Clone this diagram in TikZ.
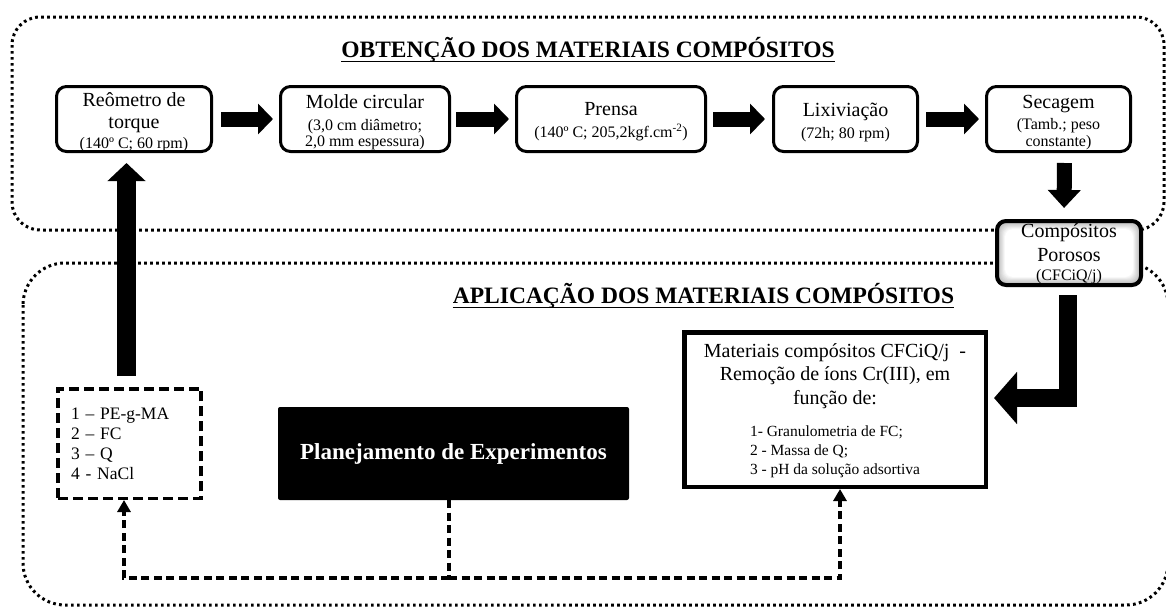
\documentclass[tikz,border=0pt]{standalone}
\usepackage{fontspec}
\setmainfont{Liberation Serif}
\usetikzlibrary{arrows.meta,calc}
\newcommand{\subt}[1]{{\fontsize{16}{17}\selectfont #1}}
\tikzset{
  stepbox/.style={draw, line width=3pt, rounded corners=10pt, minimum height=65pt, inner sep=0pt},
  txt/.style={align=center, inner sep=0pt, font=\fontsize{20}{22}\selectfont},
  blockarrow/.style={line width=15pt, -{Triangle[width=30pt,length=15pt]}},
  dotline/.style={line width=3pt, dash pattern=on 2.7pt off 3.3pt},
  dconn/.style={line width=4pt, dash pattern=on 8pt off 4.5pt},
  dtip/.style={-{Triangle[width=13pt,length=12pt]}},
  titletext/.style={font=\bfseries\fontsize{23.5}{26}\selectfont, inner sep=0pt, anchor=base},
  uline/.style={line width=1.6pt},
}
\begin{document}
\begin{tikzpicture}[x=1pt,y=-1pt]
\useasboundingbox (0,0) rectangle (1166,608);
% regions
\draw[dotline, rounded corners=28pt] (12,17) rectangle (1164,230);
\draw[dotline, rounded corners=42pt] (23,263) rectangle (1168,605);
% titles
\node[titletext] (t1) at (588,57) {OBTENÇÃO DOS MATERIAIS COMPÓSITOS};
\draw[uline] ([yshift=-4.5pt]t1.base west) -- ([yshift=-4.5pt]t1.base east);
\node[titletext] (t2) at (703.5,303) {APLICAÇÃO DOS MATERIAIS COMPÓSITOS};
\draw[uline] ([yshift=-4.5pt]t2.base west) -- ([yshift=-4.5pt]t2.base east);
% top row
\node[stepbox, minimum width=155pt,
  label={[txt, yshift=-3pt]center:{Reômetro de\\torque\\[-2pt]\subt{(140º C; 60 rpm)}}}] (b1) at (134,119) {};
\node[stepbox, minimum width=169pt,
  label={[txt, yshift=-3.5pt]center:{Molde circular\\\subt{(3,0 cm diâmetro;}\\[-5.5pt]\subt{2,0 mm espessura)}}}] (b2) at (365,119) {};
\node[stepbox, minimum width=189pt,
  label={[txt, yshift=-3pt]center:{Prensa\\\subt{(140º C; 205,2kgf.cm\textsuperscript{-2})}}}] (b3) at (611,119) {};
\node[stepbox, minimum width=144pt,
  label={[txt, yshift=-3pt]center:{Lixiviação\\\subt{(72h; 80 rpm)}}}] (b4) at (845.5,119) {};
\node[stepbox, minimum width=144pt,
  label={[txt, yshift=-3.5pt]center:{Secagem\\[-1pt]\subt{(Tamb.; peso}\\[-5pt]\subt{constante)}}}] (b5) at (1058.5,119) {};
% composites
\node[draw, line width=4pt, rounded corners=9pt, minimum width=144pt, minimum height=64pt,
  inner sep=0pt, fill=gray!60,
  path picture={\foreach \i in {0,...,10}{\pgfmathsetmacro\g{60-6*\i}
    \fill[gray!\g!white, rounded corners=8pt]
      ([shift={(\i*0.8pt,\i*0.8pt)}]path picture bounding box.south west) rectangle
      ([shift={(-\i*0.8pt,-\i*0.8pt)}]path picture bounding box.north east);}},
  label={[txt, font=\fontsize{20}{24}\selectfont, yshift=-1pt]center:{Compósitos\\Porosos\\[-5pt]\subt{(CFCiQ/j)}}}]
  (comp) at (1069,253) {};
% application
\node[draw, line width=4.5pt, minimum width=301.5pt, minimum height=154.5pt, inner sep=0pt,
  label={[txt, font=\fontsize{20}{23.5}\selectfont, yshift=-2.5pt]center:{Materiais compósitos CFCiQ/j~ -\\Remoção de íons Cr(III), em\\função de:\\[14pt]
   {\fontsize{15.5}{19}\selectfont\begin{tabular}{@{}l@{}}1- Granulometria de FC;\\2 - Massa de Q;\\3 - pH da solução adsortiva\end{tabular}}}}]
  (mat) at (835,409.5) {};
\node[fill=black, rounded corners=2pt, minimum width=351pt, minimum height=93pt, text=white,
  font=\bfseries\fontsize{23}{26}\selectfont] (plan) at (453.5,453.5) {Planejamento de Experimentos};
\node[draw, line width=3.5pt, dash pattern=on 10pt off 5pt, text width=117pt, align=left,
  inner xsep=13pt, minimum height=109.5pt, font=\fontsize{17.5}{20}\selectfont] (list) at (129.5,443.5)
  {1 – PE-g-MA\\2 – FC\\3 – Q\\4 - NaCl};
% block arrows
\draw[blockarrow, shorten <=8pt, shorten >=6pt] (b1.east) -- (b2.west);
\draw[blockarrow, shorten <=5pt, shorten >=6pt] (b2.east) -- (b3.west);
\draw[blockarrow, shorten <=6pt, shorten >=7pt] (b3.east) -- (b4.west);
\draw[blockarrow, shorten <=7pt, shorten >=6pt] (b4.east) -- (b5.west);
\draw[line width=15pt, -{Triangle[width=32pt,length=18pt]}, shorten <=10pt, shorten >=11pt]
  ([xshift=6pt]b5.south) -- ([xshift=-5pt]comp.north);
\draw[line width=19pt, -{Triangle[width=37pt,length=18pt]}, shorten <=11pt, shorten >=10pt]
  ([xshift=-3pt]list.north) -- ([xshift=-7.5pt]b1.south);
\draw[line width=18pt, -{Triangle[width=51pt,length=23pt]}, shorten <=8pt, shorten >=6pt]
  ([xshift=-1.5pt]comp.south) |- ([yshift=11.5pt]mat.east);
% dashed connectors
\coordinate (j) at (449,578);
\draw[dconn] ([xshift=-4.5pt]plan.south) -- (j);
\draw[dconn, dtip] (j) -| ([xshift=-5.5pt]list.south);
\draw[dconn, dtip] (j) -| ([xshift=5pt]mat.south);
\end{tikzpicture}
\end{document}
